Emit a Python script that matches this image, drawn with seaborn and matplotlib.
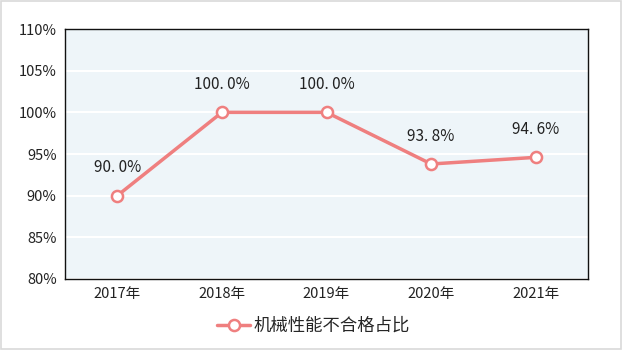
import matplotlib
matplotlib.use("Agg")
import matplotlib.pyplot as plt
import seaborn as sns
import pandas as pd
from matplotlib.ticker import FuncFormatter, MultipleLocator

years = ["2017年", "2018年", "2019年", "2020年", "2021年"]
ratio = [90.0, 100.0, 100.0, 93.8, 94.6]
series_name = "机械性能不合格占比"

sns.set_theme(style="white")
plt.rcParams["font.family"] = ["Noto Sans CJK SC", "DejaVu Sans"]

df = pd.DataFrame({"year": years, "ratio": ratio})
line_color = "#EF7F7F"

fig = plt.figure(figsize=(6.22, 3.5), dpi=100)
ax = fig.add_axes([0.1045, 0.203, 0.841, 0.714])
ax.set_facecolor("#EEF5F9")

sns.lineplot(data=df, x="year", y="ratio", ax=ax, color=line_color, linewidth=2.5,
             marker="o", markersize=8, markerfacecolor="white",
             markeredgecolor=line_color, markeredgewidth=1.8,
             label=series_name, sort=False)

for i, v in enumerate(ratio):
    ax.annotate(f"{v:.1f}%".replace(".", ". "), (i, v), xytext=(0, 14),
                textcoords="offset points", ha="center", va="bottom",
                fontsize=11, color="#222222")

ax.set_ylim(80, 110)
ax.set_xlim(-0.5, 4.5)
ax.yaxis.set_major_locator(MultipleLocator(5))
ax.yaxis.set_major_formatter(FuncFormatter(lambda y, _: f"{y:.0f}%"))
ax.grid(axis="y", color="white", linewidth=1.5)
ax.set_axisbelow(True)
ax.set_xlabel("")
ax.set_ylabel("")
ax.tick_params(axis="both", labelsize=10.5, colors="#222222", length=0, pad=6)
for s in ax.spines.values():
    s.set_color("#111111")
    s.set_linewidth(1.0)

leg = ax.legend(loc="upper center", bbox_to_anchor=(0.475, -0.09), frameon=False,
                fontsize=12.5, handlelength=1.9, handletextpad=0.2)

fig.patches.append(plt.Rectangle((0.001, 0.002), 0.997, 0.995, transform=fig.transFigure,
                                 fill=False, edgecolor="#D9D9D9", linewidth=1.2))
fig.savefig("out.png", dpi=100)
